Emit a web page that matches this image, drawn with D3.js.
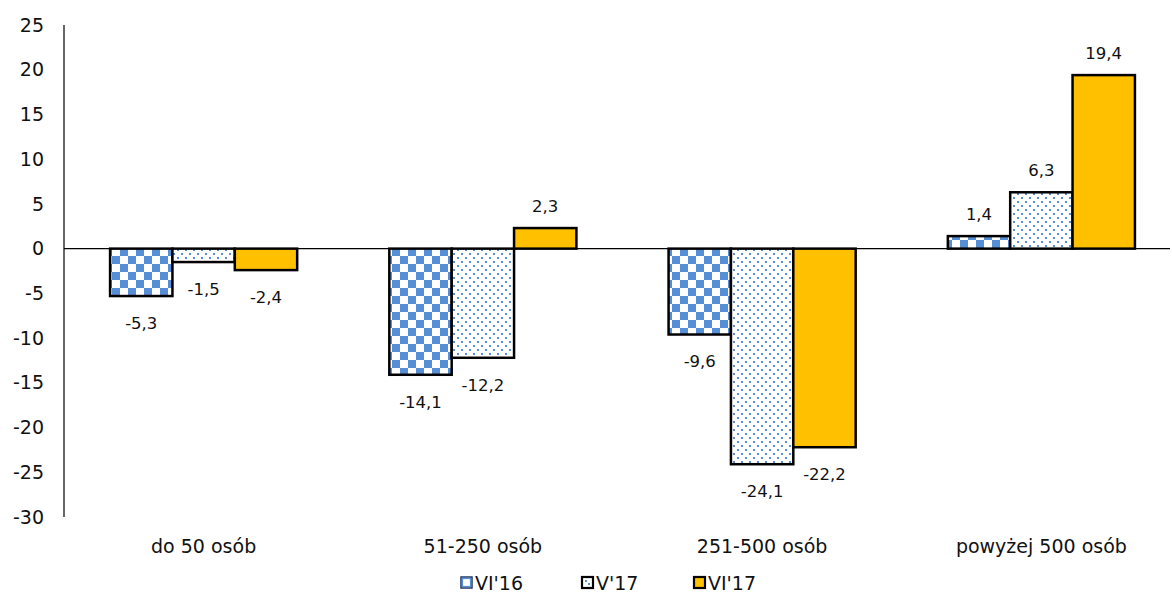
<!DOCTYPE html>
<html>
<head>
<meta charset="utf-8">
<script src="https://cdn.jsdelivr.net/npm/d3@7"></script>
<style>
  body { margin: 0; background: #ffffff; }
  svg { font-family: "DejaVu Sans", Verdana, sans-serif; }
</style>
</head>
<body>
<svg id="vis"></svg>
<script>
// categories and series
const categories = ["do 50 osób", "51-250 osób", "251-500 osób", "powyżej 500 osób"];
const seriesNames = ["VI'16", "V'17", "VI'17"];
const valuesVI16 = [-5.3, -14.1, -9.6, 1.4];
const valuesV17 = [-1.5, -12.2, -24.1, 6.3];
const valuesVI17 = [-2.4, 2.3, -22.2, 19.4];
const yTicks = [25, 20, 15, 10, 5, 0, -5, -10, -15, -20, -25, -30];

const WIDTH = 1172, HEIGHT = 594;
const BLUE = "#568fd6";
const fills = ["url(#checker)", "url(#dots)", "#ffc000"];

const pl = d3.formatLocale({decimal: ",", thousands: " ", grouping: [3], currency: ["", " zł"], minus: "-"});
const fmt = pl.format(".1f");

let svg = d3.select("#vis")
    .attr("width", WIDTH)
    .attr("height", HEIGHT);

// patterns
let defs = svg.append("defs");
let checker = defs.append("pattern")
    .attr("id", "checker")
    .attr("patternUnits", "userSpaceOnUse")
    .attr("width", 16).attr("height", 16);
checker.append("rect").attr("width", 16).attr("height", 16).attr("fill", "#ffffff");
checker.append("rect").attr("width", 8).attr("height", 8).attr("fill", BLUE);
checker.append("rect").attr("x", 8).attr("y", 8).attr("width", 8).attr("height", 8).attr("fill", BLUE);

let dots = defs.append("pattern")
    .attr("id", "dots")
    .attr("patternUnits", "userSpaceOnUse")
    .attr("width", 8).attr("height", 8);
dots.append("rect").attr("width", 8).attr("height", 8).attr("fill", "#ffffff");
dots.append("rect").attr("x", 1).attr("y", 1).attr("width", 2).attr("height", 2).attr("fill", BLUE);
dots.append("rect").attr("x", 5).attr("y", 5).attr("width", 2).attr("height", 2).attr("fill", BLUE);

// scales
let x0 = d3.scaleBand()
    .domain(categories)
    .range([64, 1181])
    .paddingInner(0.33)
    .paddingOuter(0.165);
let x1 = d3.scaleBand()
    .domain(seriesNames)
    .range([0, x0.bandwidth()]);
let y = d3.scaleLinear()
    .domain([-30, 25])
    .range([517, 25]);

// y axis
svg.append("line")
    .attr("x1", 64).attr("x2", 64)
    .attr("y1", y(25)).attr("y2", y(-30))
    .attr("stroke", "#000").attr("stroke-width", 1.2);
svg.append("g").selectAll("text")
    .data(yTicks)
    .enter().append("text")
    .attr("x", 44)
    .attr("y", d => y(d))
    .attr("dy", "0.35em")
    .attr("text-anchor", "end")
    .attr("font-size", 19)
    .attr("fill", "#111")
    .text(d => d);

// zero line
svg.append("line")
    .attr("x1", 64).attr("x2", 1170)
    .attr("y1", y(0)).attr("y2", y(0))
    .attr("stroke", "#000").attr("stroke-width", 1.2);

// bars
let rows = [];
categories.forEach(function(c, i){
    [valuesVI16, valuesV17, valuesVI17].forEach(function(arr, s){
        rows.push({cat: c, series: seriesNames[s], s: s, value: arr[i]});
    });
});

let groups = svg.append("g");
groups.selectAll("rect")
    .data(rows)
    .enter().append("rect")
    .attr("x", d => x0(d.cat) + x1(d.series))
    .attr("width", x1.bandwidth())
    .attr("y", d => y(Math.max(0, d.value)))
    .attr("height", d => Math.abs(y(d.value) - y(0)))
    .attr("fill", d => fills[d.s])
    .attr("stroke", "#000")
    .attr("stroke-width", 2.5);

// data labels
svg.append("g").selectAll("text")
    .data(rows)
    .enter().append("text")
    .attr("x", d => x0(d.cat) + x1(d.series) + x1.bandwidth() / 2)
    .attr("y", d => d.value >= 0 ? y(d.value) - 22 : y(d.value) + 27)
    .attr("dy", "0.35em")
    .attr("text-anchor", "middle")
    .attr("font-size", 16.5)
    .attr("fill", "#111")
    .text(d => fmt(d.value));

// category labels
svg.append("g").selectAll("text")
    .data(categories)
    .enter().append("text")
    .attr("x", d => x0(d) + x0.bandwidth() / 2)
    .attr("y", 546)
    .attr("dy", "0.35em")
    .attr("text-anchor", "middle")
    .attr("font-size", 19)
    .attr("fill", "#111")
    .text(d => d);

// legend
const legendX = [461, 582, 694];
let legend = svg.append("g").selectAll("g")
    .data(seriesNames)
    .enter().append("g")
    .attr("transform", (d, i) => "translate(" + legendX[i] + ",577)");
legend.append("rect")
    .attr("width", 11).attr("height", 11)
    .attr("fill", (d, i) => i == 2 ? "#ffc000" : "#ffffff")
    .attr("stroke", (d, i) => i == 0 ? "#1f3864" : "#000")
    .attr("stroke-width", (d, i) => i == 0 ? 1.5 : 2.2);
legend.filter((d, i) => i == 0).append("rect")
    .attr("x", 1.5).attr("y", 1.5).attr("width", 8).attr("height", 8)
    .attr("fill", "none").attr("stroke", BLUE).attr("stroke-width", 1.2);
legend.filter((d, i) => i == 1).append("rect")
    .attr("x", 3).attr("y", 3).attr("width", 2).attr("height", 2).attr("fill", BLUE);
legend.filter((d, i) => i == 1).append("rect")
    .attr("x", 6).attr("y", 6).attr("width", 2).attr("height", 2).attr("fill", BLUE);
legend.append("text")
    .attr("x", 14)
    .attr("y", 6)
    .attr("dy", "0.35em")
    .attr("font-size", 19)
    .attr("fill", "#111")
    .text(d => d);
</script>
</body>
</html>
